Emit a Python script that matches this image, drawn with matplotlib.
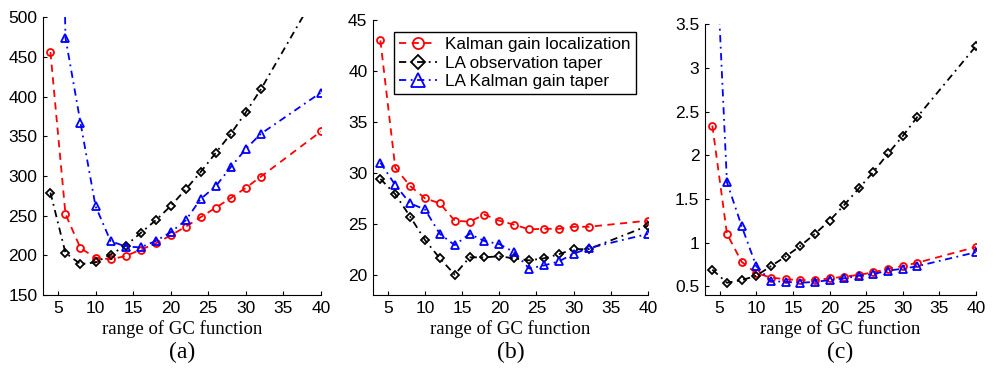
import numpy as np
import matplotlib
matplotlib.use("Agg")
import matplotlib.pyplot as plt

# range of the GC function (x values)
gc_range = [4, 6, 8, 10, 12, 14, 16, 18, 20, 22, 24, 26, 28, 30, 32, 40]

# panel (a)
a_kg = [456, 252, 209, 197, 195, 199, 207, 215, 225, 236, 248, 260, 272, 285, 299, 356]
a_obs = [279, 203, 189, 191, 201, 212, 228, 244, 262, 283, 305, 329, 353, 380, 409, 540]
a_lakg = [1500, 474, 367, 262, 218, 211, 210, 218, 229, 244, 271, 287, 311, 334, 353, 405]

# panel (b)
b_kg = [43.0, 30.5, 28.7, 27.5, 27.0, 25.3, 25.2, 25.9, 25.3, 24.9, 24.45, 24.5, 24.5, 24.7, 24.7, 25.3]
b_obs = [29.4, 27.9, 25.7, 23.4, 21.6, 20.0, 21.7, 21.7, 21.8, 21.6, 21.4, 21.6, 22.0, 22.5, 22.5, 24.8]
b_lakg = [31.0, 28.8, 27.0, 26.4, 24.0, 22.9, 24.0, 23.3, 23.0, 22.2, 20.6, 20.9, 21.3, 22.05, 22.6, 24.0]

# panel (c)
c_kg = [2.34, 1.10, 0.78, 0.65, 0.60, 0.58, 0.57, 0.57, 0.59, 0.61, 0.63, 0.66, 0.70, 0.73, 0.77, 0.95]
c_obs = [0.69, 0.54, 0.57, 0.62, 0.73, 0.84, 0.96, 1.10, 1.25, 1.43, 1.62, 1.81, 2.02, 2.22, 2.44, 3.25]
c_lakg = [5.3, 1.69, 1.19, 0.73, 0.56, 0.55, 0.54, 0.55, 0.57, 0.59, 0.62, 0.64, 0.68, 0.70, 0.73, 0.89]

labels = ["Kalman gain localization", "LA observation taper", "LA Kalman gain taper"]
panel_tags = ["(a)", "(b)", "(c)"]
ylims = [(150, 500), (18, 45), (0.4, 3.5)]
yticks = [[150, 200, 250, 300, 350, 400, 450, 500],
          [20, 25, 30, 35, 40, 45],
          [0.5, 1, 1.5, 2, 2.5, 3, 3.5]]
yticklabels = [None, None, ["0.5", "1", "1.5", "2", "2.5", "3", "3.5"]]

plt.rcParams['font.family'] = ['Liberation Sans', 'DejaVu Sans']

fig = plt.figure(figsize=(9.98, 3.72), dpi=100)
positions = [[0.043, 0.207, 0.2786, 0.747],
             [0.3737, 0.207, 0.2756, 0.739],
             [0.7064, 0.207, 0.2716, 0.728]]

data = [(a_kg, a_obs, a_lakg), (b_kg, b_obs, b_lakg), (c_kg, c_obs, c_lakg)]

for i in range(3):
    ax = fig.add_axes(positions[i])
    kg, obs, lakg = data[i]
    ax.plot(gc_range, kg, color='red', linestyle='--', dashes=(4, 3), lw=1.3,
            marker='o', ms=5, mfc='none', mew=1.3, label=labels[0])
    ax.plot(gc_range, obs, color='black', linestyle='-.', dashes=(4, 2.5, 1, 2.5), lw=1.3,
            marker='D', ms=4.5, mfc='none', mew=1.3, label=labels[1])
    ax.plot(gc_range, lakg, color='blue', linestyle='-.', dashes=(4, 2.5, 1, 2.5), lw=1.3,
            marker='^', ms=6, mfc='none', mew=1.3, label=labels[2])
    ax.set_xlim(3, 40)
    ax.set_ylim(*ylims[i])
    ax.set_xticks([5, 10, 15, 20, 25, 30, 35, 40])
    ax.set_yticks(yticks[i])
    if yticklabels[i] is not None:
        ax.set_yticklabels(yticklabels[i])
    ax.spines['top'].set_visible(False)
    ax.spines['right'].set_visible(False)
    ax.tick_params(direction='in', length=3, labelsize=12.5, pad=4)
    ax.set_xlabel("range of GC function", family='Liberation Serif', fontsize=13.5, labelpad=3)
    pos = positions[i]
    fig.text(pos[0] + pos[2] / 2, 1 - 352 / 372, panel_tags[i], ha='center', va='center',
             family='Liberation Serif', fontsize=17)
    if i == 1:
        leg = ax.legend(loc='upper right', bbox_to_anchor=(0.956, 0.956), borderaxespad=0,
                        fontsize=12.3, markerscale=1.6, handlelength=2.2, fancybox=False,
                        framealpha=1, edgecolor='black', borderpad=0.3, labelspacing=0.2,
                        handletextpad=0.5)
        leg.get_frame().set_linewidth(1.0)

fig.savefig("out.png", dpi=100)
